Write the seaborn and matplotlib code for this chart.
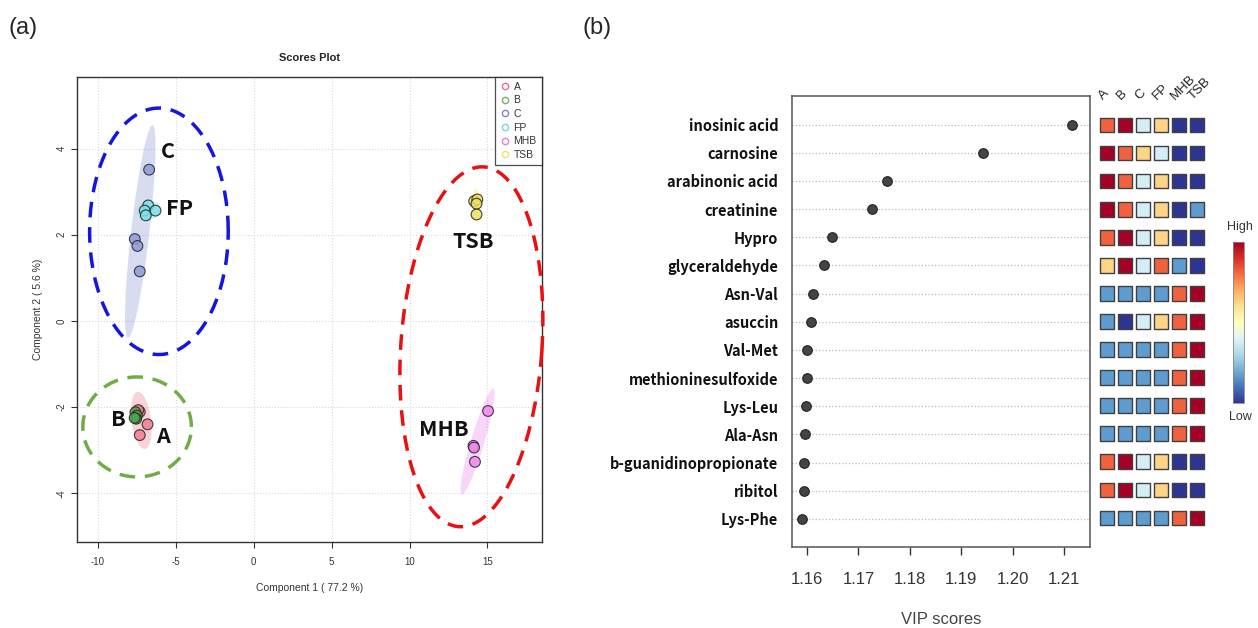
import numpy as np
import pandas as pd
import seaborn as sns
import matplotlib as mpl
import matplotlib.pyplot as plt
from matplotlib.patches import Ellipse
from matplotlib.lines import Line2D

sns.set_theme(style='white')
plt.rcParams['font.family'] = ['Liberation Sans', 'DejaVu Sans']
plt.rcParams['axes.unicode_minus'] = False

# ---- (a) PLS-DA scores ----
groups = ['A', 'B', 'C', 'FP', 'MHB', 'TSB']
score_group = ['A'] * 4 + ['B'] * 4 + ['C'] * 4 + ['FP'] * 4 + ['MHB'] * 4 + ['TSB'] * 4
comp1 = [-7.32, -6.82, -7.32, -7.42,
         -7.60, -7.50, -7.55, -7.65,
         -6.72, -7.64, -7.47, -7.32,
         -6.78, -7.00, -6.31, -6.93,
         15.04, 14.10, 14.14, 14.20,
         14.15, 14.35, 14.30, 14.30]
comp2 = [-2.11, -2.40, -2.65, -2.07,
         -2.12, -2.20, -2.27, -2.25,
         3.51, 1.90, 1.74, 1.15,
         2.68, 2.56, 2.56, 2.45,
         -2.09, -2.90, -2.94, -3.27,
         2.78, 2.82, 2.72, 2.47]
point_colors = {'A': '#EE7F8F', 'B': '#4FA24F', 'C': '#8E9BD9',
                'FP': '#7FE0E8', 'MHB': '#EE88EE', 'TSB': '#F0E060'}
legend_colors = {'A': '#E07090', 'B': '#70B070', 'C': '#8080D0',
                 'FP': '#70D8E0', 'MHB': '#E080E0', 'TSB': '#F0E070'}

# hand-drawn cluster outlines: centre x, centre y, width, height, tilt (deg)
outline_cx = [-6.09, -7.49, 13.97]
outline_cy = [2.08, -2.46, -0.60]
outline_w = [8.9, 6.97, 9.06]
outline_h = [5.72, 2.32, 8.37]
outline_tilt = [0, 0, -4.0]
outline_colors = ['#1515E0', '#70AD47', '#E81010']

group_labels = ['C', 'FP', 'TSB', 'MHB', 'B', 'A']
group_label_x = [-5.49, -4.79, 14.08, 12.2, -8.71, -5.86]
group_label_y = [3.94, 2.6, 1.84, -2.51, -2.29, -2.69]

# ---- (b) VIP scores ----
metabolites = ['inosinic acid', 'carnosine', 'arabinonic acid', 'creatinine', 'Hypro',
               'glyceraldehyde', 'Asn-Val', 'asuccin', 'Val-Met', 'methioninesulfoxide',
               'Lys-Leu', 'Ala-Asn', 'b-guanidinopropionate', 'ribitol', 'Lys-Phe']
vip = [1.2115, 1.1942, 1.1755, 1.1727, 1.1649, 1.1634, 1.1612, 1.1607,
       1.1601, 1.1601, 1.1599, 1.1597, 1.1595, 1.1595, 1.1591]
# relative concentration level per group (0 = low ... 5 = high)
levels = [[4, 5, 2, 3, 0, 0],
          [5, 4, 3, 2, 0, 0],
          [5, 4, 2, 3, 0, 0],
          [5, 4, 2, 3, 0, 1],
          [4, 5, 2, 3, 0, 0],
          [3, 5, 2, 4, 1, 0],
          [1, 1, 1, 1, 4, 5],
          [1, 0, 2, 3, 4, 5],
          [1, 1, 1, 1, 4, 5],
          [1, 1, 1, 1, 4, 5],
          [1, 1, 1, 1, 4, 5],
          [1, 1, 1, 1, 4, 5],
          [4, 5, 2, 3, 0, 0],
          [4, 5, 2, 3, 0, 0],
          [1, 1, 1, 1, 4, 5]]
level_colors = ['#2D3592', '#5E9BCF', '#D3EEF5', '#FDD385', '#EF623F', '#A50026']

fig = plt.figure(figsize=(12.58, 6.28), dpi=100)

# ================= (a) =================
ax = fig.add_axes([0.0612, 0.137, 0.3696, 0.741])
scores = pd.DataFrame({'c1': comp1, 'c2': comp2, 'grp': score_group})

for g in groups:
    sub = scores[scores.grp == g]
    cov = np.cov(sub.c1, sub.c2)
    vals, vecs = np.linalg.eigh(cov)
    order = vals.argsort()[::-1]
    vals, vecs = vals[order], vecs[:, order]
    ang = np.degrees(np.arctan2(vecs[1, 0], vecs[0, 0]))
    w, h = 2 * 2.4477 * np.sqrt(vals)
    ax.add_patch(Ellipse((sub.c1.mean(), sub.c2.mean()), w, h, angle=ang,
                         facecolor=point_colors[g], alpha=0.35, edgecolor='none', zorder=1))

sns.scatterplot(data=scores, x='c1', y='c2', hue='grp', palette=point_colors,
                s=60, edgecolor='#222222', linewidth=0.8, alpha=0.85, legend=False,
                ax=ax, zorder=3)

ax.set_xlim(-11.35, 18.5)
ax.set_ylim(-5.13, 5.67)
fig.canvas.draw()
bb = ax.get_window_extent()
px_x = bb.width / (18.5 + 11.35)
px_y = bb.height / (5.67 + 5.13)
t = np.linspace(0, 2 * np.pi, 300)
for cx, cy, w, h, tilt, col in zip(outline_cx, outline_cy, outline_w, outline_h,
                                   outline_tilt, outline_colors):
    u = w / 2 * px_x * np.cos(t)
    v = h / 2 * px_y * np.sin(t)
    th = np.radians(tilt)
    ur = u * np.cos(th) - v * np.sin(th)
    vr = u * np.sin(th) + v * np.cos(th)
    ax.plot(cx + ur / px_x, cy + vr / px_y, color=col, lw=2.5,
            linestyle=(0, (4.5, 2.8)), zorder=4, clip_on=False)

for lab, lx, ly in zip(group_labels, group_label_x, group_label_y):
    ax.text(lx, ly, lab, fontsize=15.5, fontweight='bold', ha='center', va='center',
            family=['Noto Sans CJK KR', 'DejaVu Sans'], color='#111111', zorder=5)

ax.set_xticks([-10, -5, 0, 5, 10, 15])
ax.set_yticks([-4, -2, 0, 2, 4])
ax.grid(True, color='#d8d8d8', linestyle=':', linewidth=0.8)
ax.tick_params(axis='both', which='both', direction='out', length=4, width=0.8,
               labelsize=7, colors='#333333', bottom=True, left=True)
ax.tick_params(axis='x', pad=7)
for lab in ax.get_yticklabels():
    lab.set_rotation(90)
    lab.set_va('center')
for sp in ax.spines.values():
    sp.set_color('#333333')
    sp.set_linewidth(1)
ax.set_xlabel('Component 1 ( 77.2 %)', fontsize=7.5, color='#333333', labelpad=11)
ax.set_ylabel('Component 2 ( 5.6 %)', fontsize=7.5, color='#333333', labelpad=10)
ax.set_title('Scores Plot', fontsize=8, fontweight='bold', pad=11)

handles = [Line2D([], [], marker='o', linestyle='none', markerfacecolor='none',
                  markeredgecolor=legend_colors[g], markersize=4.5, label=g) for g in groups]
leg = ax.legend(handles=handles, loc='upper right', fontsize=7.5, frameon=True,
                fancybox=False, borderaxespad=0, handletextpad=0.3, labelspacing=0.35,
                handlelength=1.0, borderpad=0.5)
leg.get_frame().set_edgecolor('#222222')
leg.get_frame().set_linewidth(0.9)
for txt in leg.get_texts():
    txt.set_color('#333333')

# ================= (b) =================
bx = fig.add_axes([0.6296, 0.129, 0.2369, 0.7174])
vip_df = pd.DataFrame({'vip': vip, 'row': np.arange(len(metabolites))})
sns.scatterplot(data=vip_df, x='vip', y='row', s=48, color='#444444',
                edgecolor='#222222', linewidth=0.8, ax=bx, zorder=3)
bx.set_xlim(1.1571, 1.215)
bx.set_ylim(len(metabolites), -1)
bx.set_yticks(range(len(metabolites)))
bx.set_yticklabels(metabolites, fontsize=10.5, fontweight='bold',
                   family=['Noto Sans CJK KR', 'DejaVu Sans'])
bx.set_xticks([1.16, 1.17, 1.18, 1.19, 1.20, 1.21])
bx.set_xticklabels(['1.16', '1.17', '1.18', '1.19', '1.20', '1.21'])
bx.grid(True, axis='y', color='#bbbbbb', linestyle=':', linewidth=0.9)
bx.tick_params(axis='x', direction='out', length=6, width=1, labelsize=12,
               colors='#333333', pad=12, bottom=True)
bx.tick_params(axis='y', length=0, pad=10, colors='#111111')
for sp in bx.spines.values():
    sp.set_color('#555555')
    sp.set_linewidth(1.1)
bx.set_xlabel('VIP scores', fontsize=12, color='#444444', labelpad=18)
bx.set_ylabel('')

# heatmap of group levels
hx = fig.add_axes([0.8728, 0.1529, 0.0859, 0.6704])
heat = pd.DataFrame([(r, c, levels[r][c]) for r in range(len(metabolites))
                     for c in range(len(groups))], columns=['row', 'col', 'level'])
sns.scatterplot(data=heat, x='col', y='row', hue='level',
                palette={i: c for i, c in enumerate(level_colors)},
                marker='s', s=112, edgecolor='#404040', linewidth=1.0,
                legend=False, ax=hx)
hx.set_xlim(-0.5, len(groups) - 0.5)
hx.set_ylim(len(metabolites) - 0.5, -0.5)
hx.axis('off')
for i, g in enumerate(groups):
    hx.text(i - 0.1, -0.8, g, rotation=45, ha='left', va='bottom',
            rotation_mode='anchor', fontsize=9.5, color='#222222')

cax = fig.add_axes([0.9801, 0.3583, 0.0087, 0.2564])
cb = mpl.colorbar.ColorbarBase(cax, cmap=plt.get_cmap('RdYlBu_r'),
                               norm=mpl.colors.Normalize(0, 1))
cb.set_ticks([])
cb.outline.set_edgecolor('#888888')
cb.outline.set_linewidth(0.6)
fig.text(0.9856, 0.639, 'High', ha='center', va='center', fontsize=9, color='#333333')
fig.text(0.9856, 0.336, 'Low', ha='center', va='center', fontsize=9, color='#333333')

fig.text(0.0064, 0.955, '(a)', fontsize=17, ha='left', va='center')
fig.text(0.4634, 0.955, '(b)', fontsize=17, ha='left', va='center')

fig.savefig('out.png', dpi=100)
